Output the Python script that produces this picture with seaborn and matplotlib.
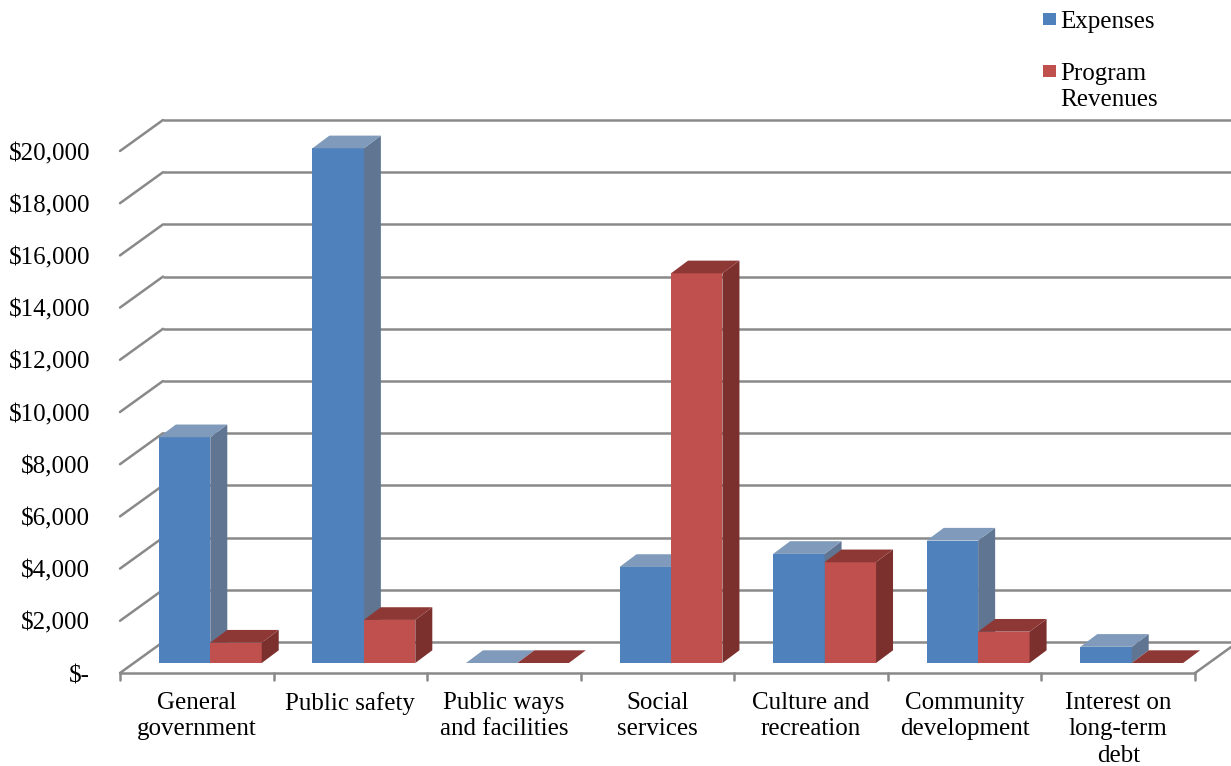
import matplotlib
matplotlib.use("Agg")
import matplotlib.pyplot as plt
import matplotlib.colors as mcolors
from matplotlib.patches import Polygon, Rectangle
import numpy as np
import pandas as pd
import seaborn as sns

# ---------------- data ----------------
categories = ["General\ngovernment", "Public safety", "Public ways\nand facilities",
              "Social\nservices", "Culture and\nrecreation", "Community\ndevelopment",
              "Interest on\nlong-term\ndebt"]
expenses = [8650, 19720, 0, 3680, 4180, 4690, 620]
program_revenues = [780, 1650, 0, 14930, 3860, 1200, 0]
series = ["Expenses", "Program Revenues"]
legend_labels = ["Expenses", "Program\nRevenues"]
y_ticks = list(range(0, 20001, 2000))
y_tick_labels = ["$-"] + [f"${v:,}" for v in y_ticks[1:]]

# ---------------- style ----------------
front_colors = ["#4F81BD", "#C0504D"]
top_colors = ["#7F9ABA", "#8E3836"]
side_colors = ["#607591", "#7B302E"]
grid_color = "#898989"

sns.set_theme(style="white")
plt.rcParams['font.family'] = ['Liberation Serif', 'DejaVu Serif']
FS = 18

W, H = 1231, 766
fig = plt.figure(figsize=(W / 100, H / 100), dpi=100)
fig.patch.set_facecolor("white")

# axes = plane of the bar fronts (pixel geometry)
ax_left, ax_right = 133.5, 1208.5
ax_base, ax_top_px = 663.0, 95.0
px_per_k = 26.1
ymax = (ax_base - ax_top_px) / px_per_k * 1000
ax = fig.add_axes([ax_left / W, (H - ax_base) / H,
                   (ax_right - ax_left) / W, (ax_base - ax_top_px) / H])

df = pd.DataFrame({
    "Category": categories * 2,
    "Series": [series[0]] * len(categories) + [series[1]] * len(categories),
    "Value": expenses + program_revenues,
})
sns.barplot(data=df, x="Category", y="Value", hue="Series", order=categories,
            hue_order=series, palette=front_colors, saturation=1, width=0.67,
            errorbar=None, legend=False, linewidth=0, ax=ax)
ax.set_xlim(-0.5, len(categories) - 0.5)
ax.set_ylim(0, ymax)
ax.set_axis_off()

sx = len(categories) / (ax_right - ax_left)      # data units per pixel (x)
sy = ymax / (ax_base - ax_top_px)                 # data units per pixel (y)
FX, FY = -13.5 * sx, -10 * sy                     # front plane offset
BX, BY = 29.5 * sx, 21 * sy                       # back wall offset
DX, DY = 17 * sx, 12.7 * sy                       # bar depth
LW = 1.8

# back wall gridlines and left-wall diagonals
x_left = -0.5
for v in y_ticks:
    ax.plot([x_left + BX, len(categories) + 2], [v + BY, v + BY], color=grid_color,
            lw=LW, clip_on=False, zorder=1, solid_capstyle="butt")
    ax.plot([x_left + FX, x_left + BX], [v + FY, v + BY], color=grid_color,
            lw=LW, clip_on=False, zorder=1)

# floor front edge and right edge
x_right = len(categories) - 0.5
ax.plot([x_left + FX, x_right + FX], [FY, FY], color=grid_color, lw=LW,
        clip_on=False, zorder=1)
ax.plot([x_right + FX, x_right + FX + 43 * sx], [FY, FY + 31 * sy], color=grid_color,
        lw=LW, clip_on=False, zorder=1)
for b in np.arange(-0.5, len(categories), 1.0):
    ax.plot([b + FX, b + FX], [FY, FY - 7 * sy], color=grid_color, lw=LW,
            clip_on=False, zorder=1)

# 3D faces for bars
front_rgba = [mcolors.to_rgba(c) for c in front_colors]
for p in ax.patches:
    fc = p.get_facecolor()
    k = int(np.argmin([sum((a - b) ** 2 for a, b in zip(fc, c)) for c in front_rgba]))
    x0, w, h = p.get_x(), p.get_width(), p.get_height()
    p.set_zorder(3 + k)
    top = Polygon([(x0, h), (x0 + w, h), (x0 + w + DX, h + DY), (x0 + DX, h + DY)],
                  closed=True, facecolor=top_colors[k], edgecolor="none", zorder=3.5 + k)
    side = Polygon([(x0 + w, 0), (x0 + w + DX, DY), (x0 + w + DX, h + DY), (x0 + w, h)],
                   closed=True, facecolor=side_colors[k], edgecolor="none", zorder=3.5 + k)
    ax.add_patch(side)
    ax.add_patch(top)

# y tick labels on front plane
x_lab = x_left + (90 - ax_left) * sx
for v, lab in zip(y_ticks, y_tick_labels):
    ax.text(x_lab, v + FY - 3 * sy, lab, ha="right", va="center", fontsize=FS,
            color="black", clip_on=False)

# category labels
for i, lab in enumerate(categories):
    ax.text(i + FX, FY - 19 * sy, lab, ha="center", va="top", fontsize=FS,
            linespacing=1.25, color="black", clip_on=False)

# legend (manual, first line aligned with swatch)
leg_y = [13, 65]
for k, (lab, y) in enumerate(zip(legend_labels, leg_y)):
    fig.add_artist(Rectangle((1043 / W, 1 - (y + 12) / H), 13 / W, 12 / H,
                             transform=fig.transFigure, facecolor=front_colors[k],
                             edgecolor="none"))
    fig.text(1060 / W, 1 - (y - 2) / H, lab, ha="left", va="top", fontsize=FS,
             linespacing=1.25, color="black")

fig.savefig("out.png", dpi=100, facecolor="white")
